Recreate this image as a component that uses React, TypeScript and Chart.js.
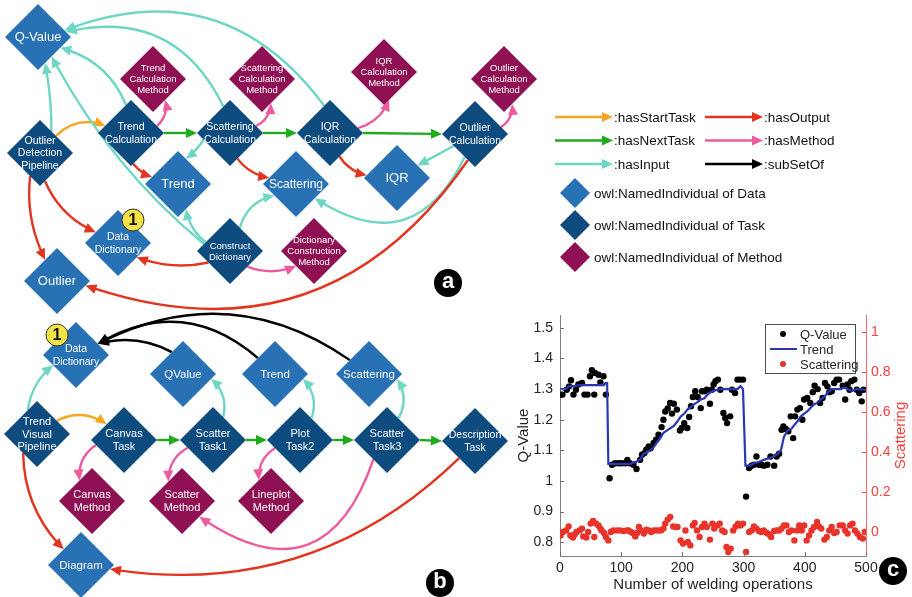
import React, { useEffect, useRef } from 'react';
import { Chart, registerables } from 'chart.js';

Chart.register(...registerables);

const FONT = '"Liberation Sans", Arial, Helvetica, sans-serif';

// ================= Panels (a) and (b): knowledge graphs =================
type Kind = 'data' | 'task' | 'method';
// id, label, kind, x, y (diagram units), label font size
const nodes: [string, string, Kind, number, number, number][] = [
  ['qv', 'Q-Value', 'data', 38, 37, 13],
  ['tcm', 'Trend\nCalculation\nMethod', 'method', 153, 79, 9.5],
  ['scm', 'Scattering\nCalculation\nMethod', 'method', 262, 79, 9.5],
  ['iqrm', 'IQR\nCalculation\nMethod', 'method', 384, 72, 9.5],
  ['ocm', 'Outlier\nCalculation\nMethod', 'method', 504, 79, 9.5],
  ['odp', 'Outlier\nDetection\nPipeline', 'task', 40, 153, 10.5],
  ['tc', 'Trend\nCalculation', 'task', 131, 133, 10.5],
  ['sc', 'Scattering\nCalculation', 'task', 230, 133, 10.5],
  ['iqrc', 'IQR\nCalculation', 'task', 330, 133, 10.5],
  ['oc', 'Outlier\nCalculation', 'task', 475, 134, 10.5],
  ['trend', 'Trend', 'data', 178, 184, 13],
  ['scat', 'Scattering', 'data', 296, 184, 12],
  ['iqr', 'IQR', 'data', 397, 178, 13],
  ['dd', 'Data\nDictionary', 'data', 118, 243, 10.5],
  ['cd', 'Construct\nDictionary', 'task', 230, 251, 9.5],
  ['dcm', 'Dictionary\nConstruction\nMethod', 'method', 314, 251, 9.5],
  ['out', 'Outlier', 'data', 57, 281, 13],
  ['dd2', 'Data\nDictionary', 'data', 76, 355, 10.5],
  ['qv2', 'QValue', 'data', 183, 374, 11.5],
  ['trend2', 'Trend', 'data', 275, 374, 11.5],
  ['scat2', 'Scattering', 'data', 369, 374, 11.5],
  ['tvp', 'Trend\nVisual\nPipeline', 'task', 37, 434, 11],
  ['ct', 'Canvas\nTask', 'task', 124, 440, 11],
  ['st1', 'Scatter\nTask1', 'task', 213, 440, 11],
  ['pt2', 'Plot\nTask2', 'task', 300, 440, 11],
  ['st3', 'Scatter\nTask3', 'task', 387, 440, 11],
  ['dt', 'Description\nTask', 'task', 475, 441, 10.5],
  ['cm', 'Canvas\nMethod', 'method', 92, 501, 11],
  ['sm', 'Scatter\nMethod', 'method', 182, 501, 11],
  ['lm', 'Lineplot\nMethod', 'method', 271, 501, 11],
  ['dg', 'Diagram', 'data', 81, 565, 11.5],
];
const NODE_R = 33;
const nodeColors: Record<string, string> = { data: '#2771B4', task: '#0E4B7F', method: '#8F1153' };

type Rel = 'start' | 'next' | 'input' | 'output' | 'method' | 'subset';
// from, to, relation, port angle at source (deg), port angle at target (deg), bend
const edges: [string, string, Rel, number, number, number][] = [
  ['odp', 'tc', 'start', 47, 164, -0.32],
  ['tc', 'sc', 'next', 0, 180, 0],
  ['sc', 'iqrc', 'next', 0, 180, 0],
  ['iqrc', 'oc', 'next', 0, 180, 0],
  ['tc', 'tcm', 'method', 15, -60, 0.3],
  ['sc', 'scm', 'method', 15, -70, 0.3],
  ['iqrc', 'iqrm', 'method', 10, -80, 0.25],
  ['oc', 'ocm', 'method', 15, -72, 0.3],
  ['tc', 'trend', 'output', -86, 165, 0.15],
  ['sc', 'scat', 'output', -74, 167, 0.2],
  ['iqrc', 'iqr', 'output', -68, 175, 0.2],
  ['sc', 'trend', 'input', 194, 73, -0.1],
  ['oc', 'iqr', 'input', 209, 31, 0],
  ['oc', 'scat', 'input', -114, -37, -0.57],
  ['oc', 'out', 'output', -105, -9, -0.38],
  ['odp', 'dd', 'output', -80, 154, 0.2],
  ['odp', 'out', 'output', -113, 119, 0.15],
  ['odp', 'qv', 'input', 62, -75, 0.05],
  ['tc', 'qv', 'input', 100, -26, 0.25],
  ['sc', 'qv', 'input', 104, 10, 0.4],
  ['iqrc', 'qv', 'input', 102, 14, 0.38],
  ['cd', 'qv', 'input', 165, -55, -0.1],
  ['cd', 'trend', 'input', 160, -72, -0.2],
  ['cd', 'scat', 'input', 67, 208, -0.3],
  ['cd', 'dd', 'output', 208, -37, -0.15],
  ['cd', 'dcm', 'method', -42, -140, 0.2],
  ['tvp', 'dd2', 'input', 111, 204, -0.2],
  ['tvp', 'ct', 'start', 34, 138, -0.3],
  ['ct', 'st1', 'next', 0, 180, 0],
  ['st1', 'pt2', 'next', 0, 180, 0],
  ['pt2', 'st3', 'next', 0, 180, 0],
  ['st3', 'dt', 'next', 0, 180, 0],
  ['ct', 'cm', 'method', 190, 121, 0.3],
  ['st1', 'sm', 'method', 197, 125, 0.3],
  ['pt2', 'lm', 'method', 198, 120, 0.3],
  ['st3', 'sm', 'method', -125, -42, -0.66],
  ['tvp', 'dg', 'output', -126, 138, 0.2],
  ['dt', 'dg', 'output', -133, -8, -0.25],
  ['st1', 'qv2', 'input', 66, -10, 0.3],
  ['pt2', 'trend2', 'input', 62, -10, 0.3],
  ['st3', 'scat2', 'input', 62, -10, 0.3],
  ['qv2', 'dd2', 'subset', 117, 27, 0.2],
  ['trend2', 'dd2', 'subset', 137, 27, 0.36],
  ['scat2', 'dd2', 'subset', 144, 27, 0.3],
];
const edgeColors: Record<Rel, string> = {
  start: '#F5A623',
  next: '#1FAA1F',
  input: '#6FD6C4',
  output: '#E2341F',
  method: '#EE5A9E',
  subset: '#000000',
};

const badgeX = [133, 57];
const badgeY = [220, 335];
const badgeText = ['1', '1'];

const panelX = [448, 440, 893];
const panelY = [283, 583, 571];
const panelText = ['a', 'b', 'c'];

const legendEdgeKinds: Rel[] = ['start', 'output', 'next', 'method', 'input', 'subset'];
const legendEdgeLabels = [':hasStartTask', ':hasOutput', ':hasNextTask', ':hasMethod', ':hasInput', ':subSetOf'];
const legendNodeKinds: Kind[] = ['data', 'task', 'method'];
const legendNodeLabels = ['owl:NamedIndividual of Data', 'owl:NamedIndividual of Task', 'owl:NamedIndividual of Method'];

// ================= Panel (c): welding chart =================
const qX = [0, 4, 11, 15, 18, 22, 26, 30, 36, 40, 45, 49, 52, 56, 57, 63, 66, 71, 75,
  81, 85, 90, 96, 101, 107, 110, 114, 120, 125,
  131, 134, 138, 141, 145, 148, 153, 157, 161, 166, 169, 172, 176, 180, 183, 186, 191, 196, 199, 203,
  208, 211, 214, 217, 221, 225, 230, 232, 236, 240, 245, 248, 251, 254, 258, 262, 267, 270, 273, 278,
  281, 286, 290, 294, 299,
  304, 309, 313, 317, 321, 325, 329, 333, 339, 344, 350, 354, 358, 362, 365, 369, 373, 377, 381, 384,
  388, 392, 396, 399, 404, 409, 413, 416, 421, 425, 429, 433, 437, 440, 444, 448, 452, 456, 462, 466,
  470, 473, 476, 481, 485, 489, 493, 496];
const qY = [1.282, 1.282, 1.298, 1.309, 1.329, 1.282, 1.298, 1.315, 1.32, 1.282, 1.282, 1.342, 1.362, 1.282, 1.353, 1.347, 1.322, 1.342, 1.282,
  1.009, 1.053, 1.058, 1.058, 1.058, 1.058, 1.069, 1.058, 1.053, 1.039,
  1.069, 1.086, 1.091, 1.102, 1.113, 1.107, 1.124, 1.135, 1.151, 1.176, 1.2, 1.227, 1.237, 1.255, 1.22, 1.252, 1.233, 1.165, 1.173, 1.189,
  1.173, 1.209, 1.244, 1.274, 1.293, 1.274, 1.238, 1.293, 1.293, 1.298, 1.252, 1.298, 1.315, 1.326, 1.331, 1.298, 1.222, 1.206, 1.189, 1.211,
  1.298, 1.287, 1.331, 1.331, 1.331,
  0.949, 1.042, 1.05, 1.053, 1.08, 1.053, 1.053, 1.05, 1.053, 1.08, 1.05, 1.08, 1.089, 1.167, 1.178, 1.17, 1.162, 1.211, 1.14, 1.211,
  1.233, 1.238, 1.2, 1.266, 1.271, 1.255, 1.29, 1.311, 1.3, 1.255, 1.271, 1.32, 1.309, 1.29, 1.293, 1.32, 1.331, 1.331, 1.311, 1.266,
  1.315, 1.298, 1.326, 1.331, 1.298, 1.287, 1.26, 1.298];

const trendX = [0, 10, 14, 22, 30, 40, 60, 72, 74, 77, 79, 90, 115, 120, 126, 131, 137, 148, 153, 158,
  164, 169, 175, 186, 192, 197, 203, 208, 213, 219, 225, 230, 236, 240, 246, 252, 262, 290, 295, 299,
  303, 310, 317, 325, 333, 342, 350, 356, 361, 366, 372, 378, 383, 388, 393, 399, 404, 410, 415, 420,
  426, 432, 437, 443, 459, 464, 470, 474, 478, 484, 490, 500];
const trendY = [1.30, 1.30, 1.31, 1.31, 1.312, 1.313, 1.313, 1.313, 1.32, 1.32, 1.056, 1.056, 1.056, 1.06, 1.064, 1.07, 1.09, 1.10, 1.11, 1.125,
  1.14, 1.157, 1.165, 1.18, 1.195, 1.21, 1.22, 1.233, 1.24, 1.25, 1.258, 1.266, 1.27, 1.28, 1.29, 1.295, 1.30, 1.30, 1.31, 1.30,
  1.05, 1.05, 1.058, 1.062, 1.069, 1.075, 1.08, 1.09, 1.10, 1.145, 1.165, 1.17, 1.183, 1.195, 1.21, 1.22, 1.227, 1.24, 1.25, 1.255,
  1.266, 1.275, 1.287, 1.30, 1.30, 1.305, 1.30, 1.296, 1.294, 1.30, 1.30, 1.297];

const scatX = [1, 5, 10, 14, 17, 21, 24, 27, 32, 36, 38, 43, 46, 50, 54, 56, 59, 63, 66, 68,
  72, 75, 79, 83, 87, 93, 98, 104, 109, 112, 116, 120, 123, 126, 129, 132, 137, 141, 145, 149,
  153, 157, 161, 165, 169, 172, 176, 180, 185, 189, 192, 197, 201, 205, 209, 213, 217, 220, 224, 228,
  232, 236, 240, 245, 249, 252, 257, 261, 265, 269, 272, 275, 279, 283, 287, 291, 295, 299, 304, 309,
  313, 317, 321, 325, 329, 333, 338, 342, 345, 350, 354, 358, 362, 366, 370, 374, 378, 383, 387, 391,
  395, 399, 403, 407, 411, 415, 420, 423, 427, 432, 436, 440, 444, 448, 452, 457, 462, 466, 470, 474,
  478, 482, 486, 490, 495, 498];
const scatY = [-0.017, 0, 0.008, 0.028, -0.017, -0.028, -0.012, 0, 0.008, 0.017, -0.022, -0.028, 0, 0.042, 0.055, -0.025, 0.042, 0.033, 0.017, 0.008,
  -0.005, -0.025, -0.042, 0, 0.008, 0.008, 0.008, 0.005, 0.008, 0.008, 0, -0.008, -0.022, -0.005, 0.025, 0.008, -0.008, 0.012, 0.008, 0,
  0.008, 0.008, 0.008, 0.008, 0.017, 0.042, 0.062, 0.075, 0.028, 0.025, 0.025, -0.042, -0.058, 0.008, -0.05, -0.067, 0.033, 0.045, 0.008, -0.025,
  0.025, 0.042, 0.025, -0.038, 0.042, 0.017, 0.033, 0.042, 0.008, 0, -0.075, -0.1, -0.083, 0.008, 0.028, 0.042, 0.033, 0.042, -0.1, 0,
  0.008, 0.028, 0.017, 0.005, 0, 0.008, -0.005, -0.012, -0.025, 0.005, 0.008, 0.008, 0.017, 0.033, 0.033, 0, 0.008, -0.042, 0.008, 0.033,
  0.008, 0.033, -0.042, -0.017, 0.008, 0.025, 0.05, 0.028, 0.017, -0.038, -0.025, 0.008, 0.025, -0.005, 0, 0.033, 0.033, 0.008, -0.008, 0.033,
  0.042, 0.008, -0.008, -0.025, -0.033, 0];

const xTicks = [0, 100, 200, 300, 400, 500];
const leftTicks = [0.8, 0.9, 1, 1.1, 1.2, 1.3, 1.4, 1.5];
const rightTicks = [0, 0.2, 0.4, 0.6, 0.8, 1];

const RED_AXIS = '#FF3B3B';
const GRAY_TXT = '#262626';

// ---------- helpers ----------
function port(c: any, r: number, deg: number) {
  const a = (deg * Math.PI) / 180;
  const ux = Math.cos(a);
  const uy = -Math.sin(a);
  const t = r / (Math.abs(ux) + Math.abs(uy));
  return { x: c.x + ux * t, y: c.y + uy * t };
}

function drawArrow(ctx: CanvasRenderingContext2D, p0: any, c: any, p2: any, color: string, lw: number, head = 11, hw = 5) {
  let ux = p2.x - c.x;
  let uy = p2.y - c.y;
  const ul = Math.hypot(ux, uy) || 1;
  ux /= ul;
  uy /= ul;
  const approx = (Math.hypot(c.x - p0.x, c.y - p0.y) + Math.hypot(p2.x - c.x, p2.y - c.y) + Math.hypot(p2.x - p0.x, p2.y - p0.y)) / 2;
  const t1 = Math.max(0.05, 1 - (head * 0.75) / approx);
  const q = { x: p0.x + (c.x - p0.x) * t1, y: p0.y + (c.y - p0.y) * t1 };
  const u = 1 - t1;
  const b = {
    x: u * u * p0.x + 2 * u * t1 * c.x + t1 * t1 * p2.x,
    y: u * u * p0.y + 2 * u * t1 * c.y + t1 * t1 * p2.y,
  };
  ctx.save();
  ctx.strokeStyle = color;
  ctx.fillStyle = color;
  ctx.lineWidth = lw;
  ctx.lineCap = 'butt';
  ctx.beginPath();
  ctx.moveTo(p0.x, p0.y);
  ctx.quadraticCurveTo(q.x, q.y, b.x, b.y);
  ctx.stroke();
  ctx.beginPath();
  ctx.moveTo(p2.x, p2.y);
  ctx.lineTo(p2.x - ux * head - uy * hw, p2.y - uy * head + ux * hw);
  ctx.lineTo(p2.x - ux * head + uy * hw, p2.y - uy * head - ux * hw);
  ctx.closePath();
  ctx.fill();
  ctx.restore();
}

const graphPlugin = {
  id: 'graphPlugin',
  beforeDatasetsDraw(chart: any) {
    const { ctx } = chart;
    const sx = chart.scales.x;
    const sy = chart.scales.y;
    const r = sx.getPixelForValue(NODE_R) - sx.getPixelForValue(0);
    const pos = (id: string) => {
      const n = nodes.find((row) => row[0] === id)!;
      return { x: sx.getPixelForValue(n[3]), y: sy.getPixelForValue(n[4]) };
    };
    edges.forEach(([from, to, rel, a0, a1, bend]) => {
      const p0 = port(pos(from), r, a0);
      const p2 = port(pos(to), r, a1);
      const dx = p2.x - p0.x;
      const dy = p2.y - p0.y;
      const len = Math.hypot(dx, dy) || 1;
      const nx = -dy / len;
      const ny = dx / len;
      const c = { x: (p0.x + p2.x) / 2 + nx * bend * len, y: (p0.y + p2.y) / 2 + ny * bend * len };
      drawArrow(ctx, p0, c, p2, edgeColors[rel], 2.4);
    });
  },
  afterDatasetsDraw(chart: any) {
    const { ctx } = chart;
    const sx = chart.scales.x;
    const sy = chart.scales.y;
    ctx.save();
    ctx.textAlign = 'center';
    ctx.textBaseline = 'middle';
    // node labels
    nodes.forEach(([, label, , x, y, size]) => {
      const lines = label.split('\n');
      const lh = size * 1.17;
      const px = sx.getPixelForValue(x);
      const py = sy.getPixelForValue(y);
      ctx.fillStyle = '#ffffff';
      ctx.font = `${size}px ${FONT}`;
      lines.forEach((ln, i) => ctx.fillText(ln, px, py + (i - (lines.length - 1) / 2) * lh + 0.5));
    });
    // badges
    ctx.fillStyle = '#111';
    ctx.font = `bold 16px ${FONT}`;
    badgeText.forEach((t, i) => ctx.fillText(t, sx.getPixelForValue(badgeX[i]), sy.getPixelForValue(badgeY[i]) + 1));
    // panel letters
    ctx.fillStyle = '#fff';
    ctx.font = `bold 22px ${FONT}`;
    panelText.forEach((t, i) => ctx.fillText(t, sx.getPixelForValue(panelX[i]), sy.getPixelForValue(panelY[i]) - 1));
    // legend: relations
    ctx.textAlign = 'left';
    ctx.font = `13.5px ${FONT}`;
    legendEdgeKinds.forEach((k, i) => {
      const col = i % 2;
      const row = Math.floor(i / 2);
      const x0 = 555 + col * 150;
      const y = 117 + row * 23.5;
      drawArrow(ctx, { x: x0, y }, { x: x0 + 28, y }, { x: x0 + 58, y }, edgeColors[k], 2.4, 11, 5);
      ctx.fillStyle = '#111';
      ctx.fillText(legendEdgeLabels[i], x0 + 59, y + 1);
    });
    // legend: node kinds
    legendNodeKinds.forEach((k, i) => {
      const cx = 575;
      const cy = 193 + i * 32;
      const rr = 15;
      ctx.fillStyle = nodeColors[k];
      ctx.beginPath();
      ctx.moveTo(cx - rr, cy);
      ctx.lineTo(cx, cy - rr);
      ctx.lineTo(cx + rr, cy);
      ctx.lineTo(cx, cy + rr);
      ctx.closePath();
      ctx.fill();
      ctx.fillStyle = '#111';
      ctx.fillText(legendNodeLabels[i], 594, cy + 1);
    });
    ctx.restore();
  },
};

const fmt = (v: any) => String(Number(Number(v).toFixed(2)));

const weldPlugin = {
  id: 'weldPlugin',
  afterDraw(chart: any) {
    const { ctx, chartArea: a, scales } = chart;
    ctx.save();
    // inward tick marks
    ctx.lineWidth = 1;
    ctx.strokeStyle = '#707070';
    xTicks.forEach((v) => {
      const px = Math.round(scales.x.getPixelForValue(v)) + 0.5;
      ctx.beginPath();
      ctx.moveTo(px, a.bottom);
      ctx.lineTo(px, a.bottom - 4);
      ctx.stroke();
    });
    leftTicks.forEach((v) => {
      const py = Math.round(scales.y.getPixelForValue(v)) + 0.5;
      ctx.beginPath();
      ctx.moveTo(a.left, py);
      ctx.lineTo(a.left + 4, py);
      ctx.stroke();
    });
    ctx.strokeStyle = RED_AXIS;
    rightTicks.forEach((v) => {
      const py = Math.round(scales.y2.getPixelForValue(v)) + 0.5;
      ctx.beginPath();
      ctx.moveTo(a.right, py);
      ctx.lineTo(a.right - 4, py);
      ctx.stroke();
    });
    // right axis title (reads bottom-to-top)
    ctx.fillStyle = RED_AXIS;
    ctx.font = `15px ${FONT}`;
    ctx.textAlign = 'center';
    ctx.textBaseline = 'middle';
    ctx.translate(chart.width - 11, (a.top + a.bottom) / 2);
    ctx.rotate(-Math.PI / 2);
    ctx.fillText('Scattering', 0, 0);
    ctx.setTransform(1, 0, 0, 1, 0, 0);
    // legend box
    const w = 90;
    const h = 49;
    const x0 = a.right - 11 - w;
    const y0 = a.top + 9;
    ctx.fillStyle = '#fff';
    ctx.fillRect(x0, y0, w, h);
    ctx.strokeStyle = '#4d4d4d';
    ctx.lineWidth = 1;
    ctx.strokeRect(x0 + 0.5, y0 + 0.5, w, h);
    ctx.font = `13px ${FONT}`;
    ctx.textAlign = 'left';
    chart.data.datasets.forEach((ds: any, i: number) => {
      const y = y0 + 10 + i * 15;
      if (ds.type === 'line') {
        ctx.strokeStyle = ds.borderColor;
        ctx.lineWidth = 2;
        ctx.beginPath();
        ctx.moveTo(x0 + 5, y);
        ctx.lineTo(x0 + 32, y);
        ctx.stroke();
      } else {
        ctx.fillStyle = ds.backgroundColor;
        ctx.beginPath();
        ctx.arc(x0 + 18, y, 3, 0, Math.PI * 2);
        ctx.fill();
      }
      ctx.fillStyle = GRAY_TXT;
      ctx.fillText(ds.label, x0 + 35, y + 1);
    });
    ctx.restore();
  },
};

const noPad = (s: any) => {
  s.paddingTop = 0;
  s.paddingBottom = 0;
  s.paddingLeft = 0;
  s.paddingRight = 0;
};

export default function App() {
  const graphRef = useRef<HTMLCanvasElement>(null);
  const weldRef = useRef<HTMLCanvasElement>(null);

  useEffect(() => {
    const kinds: Kind[] = ['data', 'task', 'method'];
    const nodeSets = kinds.map((k) => ({
      label: k,
      data: nodes.filter((n) => n[2] === k).map((n) => ({ x: n[3], y: n[4] })),
      pointStyle: 'rectRot',
      pointRadius: NODE_R,
      pointHoverRadius: NODE_R,
      backgroundColor: nodeColors[k],
      borderWidth: 0,
      order: 2,
      clip: false,
    }));
    const g = new Chart(graphRef.current!, {
      type: 'scatter',
      data: {
        datasets: [
          ...nodeSets,
          {
            label: 'badge',
            data: badgeX.map((x, i) => ({ x, y: badgeY[i] })),
            pointStyle: 'circle',
            pointRadius: 11,
            backgroundColor: '#F4E346',
            borderColor: '#333',
            borderWidth: 1,
            order: 1,
            clip: false,
          },
          {
            label: 'panel',
            data: panelX.map((x, i) => ({ x, y: panelY[i] })),
            pointStyle: 'circle',
            pointRadius: 14,
            backgroundColor: '#000',
            borderWidth: 0,
            order: 0,
            clip: false,
          },
        ] as any,
      },
      options: {
        animation: false,
        responsive: false,
        events: [],
        layout: { padding: 0, autoPadding: false },
        plugins: { legend: { display: false }, tooltip: { enabled: false } },
        scales: {
          x: { type: 'linear', min: 0, max: 912, display: false },
          y: { type: 'linear', min: 0, max: 597, reverse: true, display: false },
        },
      } as any,
      plugins: [graphPlugin],
    });

    const tickFont = { family: FONT, size: 14 };
    const w = new Chart(weldRef.current!, {
      type: 'scatter',
      data: {
        datasets: [
          {
            label: 'Q-Value',
            data: qX.map((x, i) => ({ x, y: qY[i] })),
            yAxisID: 'y',
            backgroundColor: '#000',
            borderColor: '#000',
            borderWidth: 0,
            pointRadius: 3.2,
            order: 1,
          },
          {
            label: 'Trend',
            type: 'line',
            data: trendX.map((x, i) => ({ x, y: trendY[i] })),
            yAxisID: 'y',
            borderColor: '#2B36B4',
            backgroundColor: '#2B36B4',
            borderWidth: 2.2,
            pointRadius: 0,
            fill: false,
            tension: 0,
            order: 0,
          },
          {
            label: 'Scattering',
            data: scatX.map((x, i) => ({ x, y: scatY[i] })),
            yAxisID: 'y2',
            backgroundColor: '#E8332B',
            borderColor: '#E8332B',
            borderWidth: 0,
            pointRadius: 3.2,
            order: 2,
          },
        ] as any,
      },
      options: {
        animation: false,
        responsive: false,
        events: [],
        layout: { padding: { top: 3, left: 0, right: 0, bottom: 0 }, autoPadding: false },
        plugins: { legend: { display: false }, tooltip: { enabled: false } },
        scales: {
          x: {
            type: 'linear',
            min: 0,
            max: 500,
            afterBuildTicks: (s: any) => {
              s.ticks = xTicks.map((v) => ({ value: v }));
            },
            afterFit: (s: any) => {
              s.height = 41;
              noPad(s);
            },
            grid: { drawOnChartArea: false, drawTicks: false },
            border: { display: true, color: '#808080', width: 1 },
            ticks: { color: GRAY_TXT, font: tickFont, padding: 4, callback: fmt },
            title: {
              display: true,
              text: 'Number of welding operations',
              color: GRAY_TXT,
              font: { family: FONT, size: 15 },
              padding: { top: 0, bottom: 3 },
            },
          },
          y: {
            type: 'linear',
            position: 'left',
            min: 0.755,
            max: 1.542,
            afterBuildTicks: (s: any) => {
              s.ticks = leftTicks.map((v) => ({ value: v }));
            },
            afterFit: (s: any) => {
              s.width = 48;
              noPad(s);
            },
            grid: { drawOnChartArea: false, drawTicks: false },
            border: { display: true, color: '#808080', width: 1 },
            ticks: { color: GRAY_TXT, font: tickFont, padding: 7, callback: fmt },
            title: {
              display: true,
              text: 'Q-Value',
              color: GRAY_TXT,
              font: { family: FONT, size: 15 },
              padding: { top: 3, bottom: 0 },
            },
          },
          y2: {
            type: 'linear',
            position: 'right',
            min: -0.12,
            max: 1.085,
            afterBuildTicks: (s: any) => {
              s.ticks = rightTicks.map((v) => ({ value: v }));
            },
            afterFit: (s: any) => {
              s.width = 46;
              noPad(s);
            },
            grid: { drawOnChartArea: false, drawTicks: false },
            border: { display: true, color: '#FF6B6B', width: 1 },
            ticks: { color: RED_AXIS, font: tickFont, padding: 5, callback: fmt },
            title: { display: false },
          },
        },
      } as any,
      plugins: [weldPlugin],
    });

    return () => {
      g.destroy();
      w.destroy();
    };
  }, []);

  return (
    <div style={{ position: 'absolute', left: 0, top: 0, width: 912, height: 597, background: '#fff', overflow: 'hidden' }}>
      <canvas ref={graphRef} width={912} height={597} style={{ position: 'absolute', left: 0, top: 0, width: 912, height: 597 }} />
      <canvas ref={weldRef} width={400} height={285} style={{ position: 'absolute', left: 512, top: 312, width: 400, height: 285 }} />
    </div>
  );
}
